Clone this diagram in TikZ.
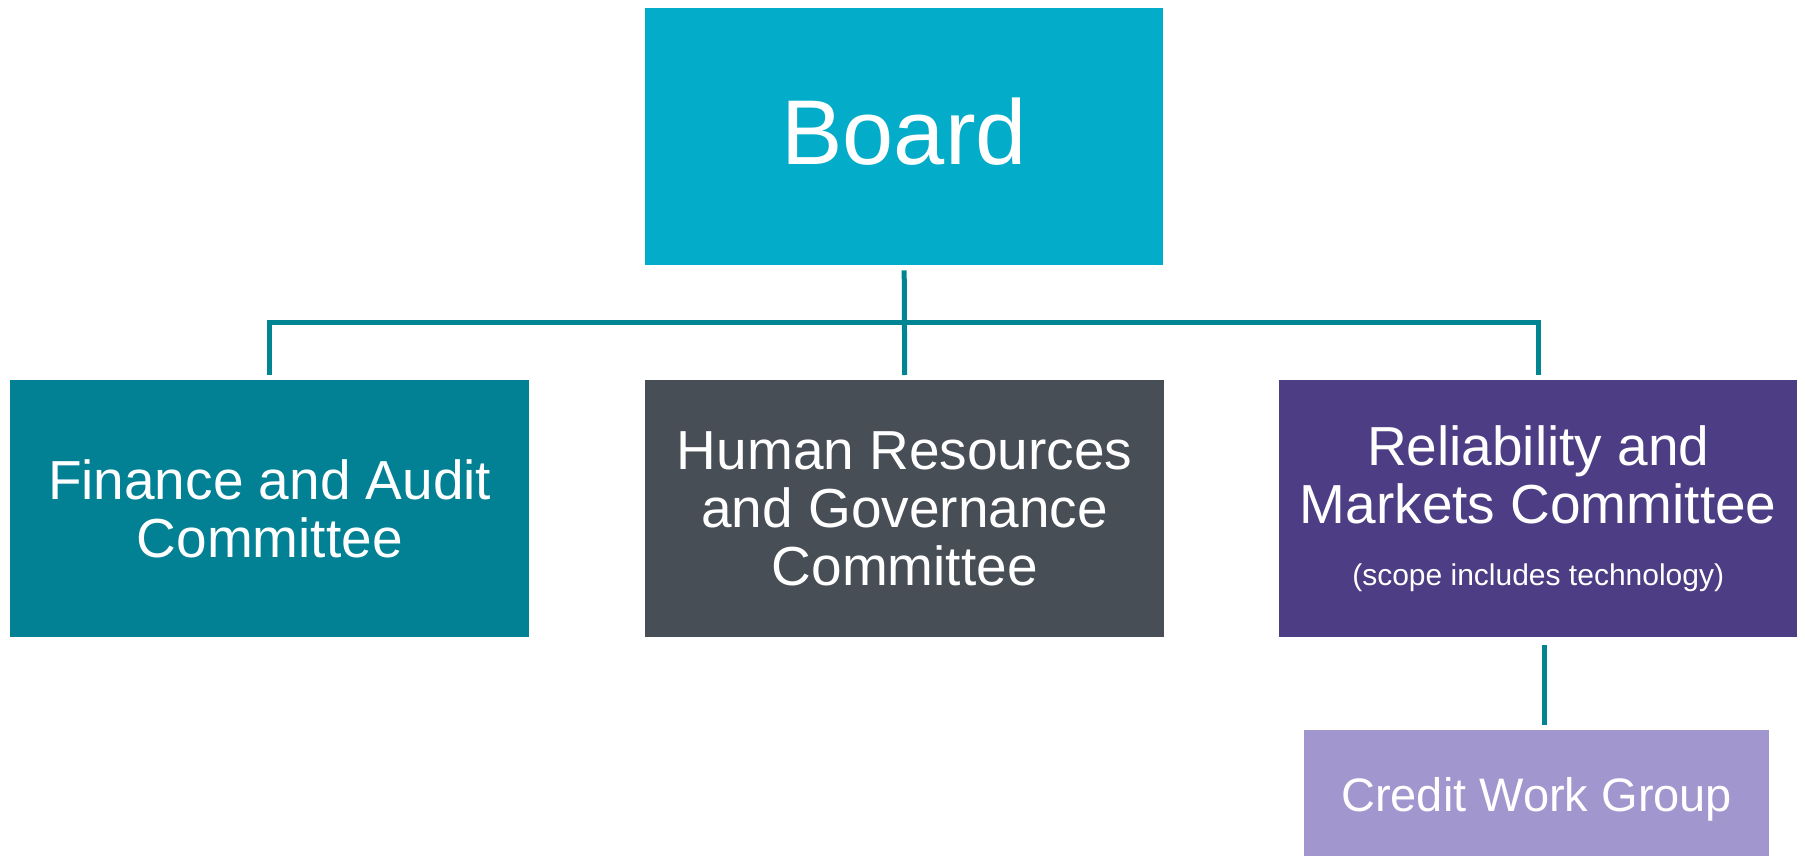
\documentclass[tikz,border=0pt]{standalone}
\usepackage{fontspec}
\setmainfont{Liberation Sans}
\usetikzlibrary{calc}
\definecolor{boardcol}{HTML}{03ACC8}
\definecolor{facol}{HTML}{028195}
\definecolor{hrcol}{HTML}{474E56}
\definecolor{rmcol}{HTML}{4C3D84}
\definecolor{cwcol}{HTML}{A296CF}
\definecolor{linkcol}{HTML}{028592}
\begin{document}
\begin{tikzpicture}[x=1pt,y=-1pt,
  orgbox/.style={draw=none, inner sep=0pt, anchor=north west, align=center,
    text=white, font=\fontsize{55}{58}\selectfont},
  conn/.style={draw=linkcol, line width=5pt, line join=miter}]
\useasboundingbox (0,0) rectangle (1805,856);
\fill[white] (0,0) rectangle (1805,856);

\node[orgbox, fill=boardcol, minimum width=518pt, minimum height=257pt,
  font=\fontsize{92}{96}\selectfont, text depth=12pt] (board) at (645,8) {Board};
\node[orgbox, fill=facol, minimum width=519pt, minimum height=257pt]
  (fa) at (10,380) {Finance and Audit\\Committee};
\node[orgbox, fill=hrcol, minimum width=519pt, minimum height=257pt]
  (hr) at (645,380) {Human Resources\\and Governance\\Committee};
\node[orgbox, fill=rmcol, minimum width=518pt, minimum height=257pt]
  (rm) at (1279,380) {Reliability and\\Markets Committee\\[4pt]{\fontsize{30}{36}\selectfont (scope includes technology)}};
\node[orgbox, fill=cwcol, minimum width=465pt, minimum height=126pt,
  font=\fontsize{47}{50}\selectfont, text height=46pt, text depth=10pt]
  (cw) at (1304,730) {Credit Work Group};

\coordinate (bus) at (904,322.5);
\draw[conn] ([yshift=-5pt]board.south) -- ([yshift=5pt]hr.north);
\draw[conn] ([yshift=5pt]fa.north) |- (bus) -| ([yshift=5pt]rm.north);
\draw[conn] ($(rm.south)+(6,8)$) -- ($(rm.south |- cw.north)+(6,-5)$);
\end{tikzpicture}
\end{document}
